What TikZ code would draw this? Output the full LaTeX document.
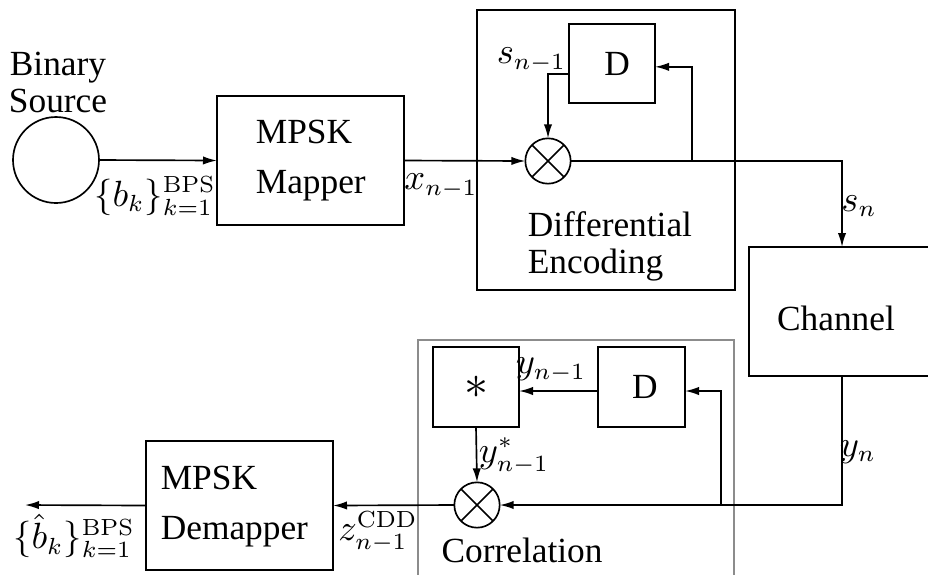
\documentclass[tikz,border=0pt]{standalone}
\usepackage[no-math]{fontspec}
\setmainfont{Liberation Serif}
\usetikzlibrary{arrows.meta}
\begin{document}
\begin{tikzpicture}[x=0.3pt,y=-0.3pt,line width=0.5pt,
  every node/.style={font=\fontsize{10.6}{11.1}\selectfont},
  arr/.style={-{Latex[length=4.2pt,width=2.5pt]}},
  blk/.style={draw,rectangle,inner sep=0pt,outer sep=0pt},
  mult/.style={draw,circle,inner sep=0pt,outer sep=0pt,minimum size=13.6pt},
  lbl/.style={inner sep=0pt}]
\useasboundingbox (0,0) rectangle (928,574);
% nodes
\node[draw,circle,inner sep=0pt,outer sep=0pt,minimum size=25.8pt] (src) at (56,160) {};
\node[lbl,align=center] (srct) at (58,82) {Binary\\Source};
\node[blk,minimum width=56.1pt,minimum height=38.7pt] (map) at (310.5,160.5) {};
\node[lbl,align=left,anchor=west,font=\fontsize{10.6}{15}\selectfont] (mapt) at (255,161) {MPSK\\Mapper};
\node[blk,minimum width=77.4pt,minimum height=84pt] (denc) at (606,150) {};
\node[blk,minimum width=25.8pt,minimum height=23.7pt] (d1) at (612,63.5) {\hspace{3pt}D};
\node[mult] (m1) at (548,161) {};
\node[lbl,align=left,anchor=west] (denct) at (527,246) {Differential\\Encoding};
\node[blk,minimum width=55.8pt,minimum height=38.7pt] (chan) at (842,311.5) {};
\node[lbl] (chant) at (836,318) {Channel};
\node[blk,draw=black!45,minimum width=94.8pt,minimum height=72pt] (corr) at (576,460) {};
\node[lbl] (corrt) at (522,550) {Correlation};
\node[blk,minimum width=25.8pt,minimum height=24pt] (star) at (476,387) {\Large$\ast$};
\node[blk,minimum width=26.1pt,minimum height=24pt] (d2) at (641.5,387) {\hspace{2pt}D};
\node[mult] (m2) at (477,505) {};
\node[blk,minimum width=56.1pt,minimum height=38.7pt] (demap) at (239.5,505.5) {};
\node[lbl,align=left,anchor=west,font=\fontsize{10.6}{15}\selectfont] (demapt) at (160,507) {MPSK\\Demapper};
\coordinate (out) at (25,505);
\coordinate (j1) at (692,160);
\coordinate (j3) at (721,505);
% crosses in multipliers
\draw (m1.north west) -- (m1.south east) (m1.north east) -- (m1.south west);
\draw (m2.north west) -- (m2.south east) (m2.north east) -- (m2.south west);
% connectors
\draw[arr] (src.east) -- (map.west);
\draw[arr] (map.east) -- (m1.west);
\draw[arr] (m1.east) -| (chan.north);
\draw[arr] (j1) |- ([yshift=-1pt]d1.east);
\draw[arr] ([yshift=-3.15pt]d1.west) -| (m1.north);
\draw[arr] (chan.south) |- (m2.east);
\draw[arr] (j3) |- ([yshift=-1.2pt]d2.east);
\draw[arr] ([yshift=-1.2pt]d2.west) -- ([yshift=-1.2pt]star.east);
\draw[arr] (star.south) -- (m2.north);
\draw[arr] (m2.west) -- (demap.east);
\draw[arr] (demap.west) -- (out);
% labels
\node[lbl] (lb) at (155,196) {$\{b_k\}_{k=1}^{\mathrm{BPS}}$};
\node[lbl] (lx) at (441,186) {$x_{n-1}$};
\node[lbl,anchor=east] (ls1) at (567,60) {$s_{n-1}$};
\node[lbl] (lsn) at (859,206) {$s_n$};
\node[lbl] (ly1) at (551,370) {$y_{n-1}$};
\node[lbl] (lys) at (514,456) {$y_{n-1}^{*}$};
\node[lbl] (lyn) at (858,452) {$y_n$};
\node[lbl] (lz) at (378,532) {$z_{n-1}^{\mathrm{CDD}}$};
\node[lbl] (lbh) at (74,536) {$\{\hat{b}_k\}_{k=1}^{\mathrm{BPS}}$};
\end{tikzpicture}
\end{document}
